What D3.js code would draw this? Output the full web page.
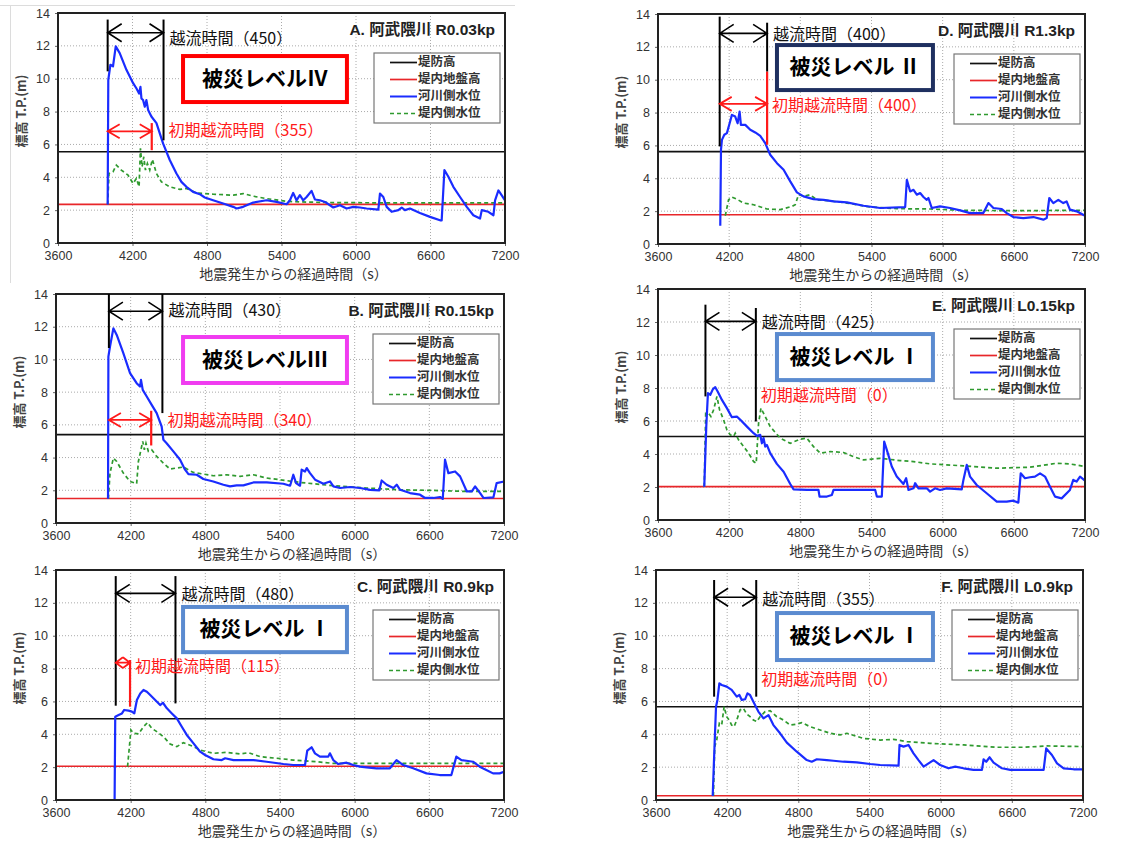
<!DOCTYPE html>
<html>
<head>
<meta charset="utf-8">
<script src="https://cdn.jsdelivr.net/npm/d3@7"></script>
<style>
  body { margin: 0; background: #fff; }
  svg { display: block; }
</style>
</head>
<body>
<div id="chart"></div>
<script>
// panel order: A, B, C (left column), D, E, F (right column)
const panelTitles = ["A. 阿武隈川 R0.03kp", "B. 阿武隈川 R0.15kp", "C. 阿武隈川 R0.9kp",
                     "D. 阿武隈川 R1.3kp", "E. 阿武隈川 L0.15kp", "F. 阿武隈川 L0.9kp"];
const damageLevels = ["被災レベルⅣ", "被災レベルⅢ", "被災レベル Ⅰ", "被災レベル Ⅱ", "被災レベル Ⅰ", "被災レベル Ⅰ"];
const overflowTimes = [450, 430, 480, 400, 425, 355];
const initialOverflowTimes = [355, 340, 115, 400, 0, 0];
const overflowStarts = [4000, 4025, 4080, 4120, 4000, 4090];
const crestHeights = [5.55, 5.4, 4.95, 5.62, 5.06, 5.68];   // 堤防高
const groundHeights = [2.35, 1.5, 2.05, 1.78, 2.02, 0.26];  // 堤内地盤高

const xTicks = [3600, 4200, 4800, 5400, 6000, 6600, 7200];
const yTicks = [0, 2, 4, 6, 8, 10, 12, 14];
const legendLabels = ["堤防高", "堤内地盤高", "河川側水位", "堤内側水位"];
const xTitle = "地震発生からの経過時間（s）";
const yTitle = "標高 T.P.(m)";

// 河川側水位 (river side water level)
const riverA = [[4000,2.35],[4005,9.93],[4022,10.85],[4043,10.75],[4065,11.97],[4097,11.56],[4151,10.54],[4205,9.73],[4231,9.42],[4253,9.1],[4264,9.5],[4272,8.8],[4285,8.7],[4299,8.3],[4312,8.7],[4326,8.1],[4352,7.7],[4393,7.3],[4446,6.06],[4500,5.05],[4554,4.23],[4594,3.72],[4634,3.42],[4688,3.11],[4742,2.97],[4782,2.77],[4849,2.6],[4930,2.4],[5011,2.2],[5038,2.1],[5091,2.2],[5172,2.46],[5279,2.6],[5360,2.5],[5441,2.36],[5468,2.6],[5494,3.05],[5521,2.6],[5548,2.91],[5575,2.6],[5602,2.8],[5642,3.17],[5669,2.65],[5709,2.6],[5750,2.5],[5790,2.3],[5817,2.16],[5871,2.3],[5924,2.1],[5978,2.2],[6032,2.16],[6085,2.1],[6180,2.03],[6193,3.01],[6220,2.8],[6247,2.2],[6287,1.9],[6341,2.0],[6368,2.16],[6394,2.0],[6435,2.1],[6515,1.83],[6596,1.59],[6677,1.38],[6690,1.38],[6712,4.44],[6744,4.03],[6784,3.42],[6838,2.8],[6892,2.2],[6945,1.69],[6999,1.49],[7013,2.0],[7066,1.9],[7107,1.69],[7120,2.6],[7147,3.2],[7174,2.9],[7200,2.6]];
const riverB = [[4018,1.49],[4021,10.17],[4034,10.79],[4061,11.9],[4088,11.5],[4141,10.38],[4195,9.16],[4248,8.55],[4275,8.34],[4283,8.75],[4297,8.14],[4329,7.73],[4369,7.22],[4409,6.72],[4449,5.9],[4463,5.09],[4489,4.88],[4543,4.38],[4597,3.87],[4637,3.26],[4664,2.99],[4731,2.95],[4784,2.69],[4864,2.54],[4945,2.34],[4998,2.24],[5052,2.3],[5106,2.3],[5186,2.48],[5293,2.48],[5427,2.4],[5481,2.28],[5507,2.95],[5529,2.44],[5561,2.28],[5574,3.26],[5601,3.15],[5615,3.36],[5641,3.05],[5682,2.65],[5749,2.4],[5802,2.54],[5829,2.24],[5883,2.14],[5963,2.2],[6043,2.14],[6124,2.03],[6198,2.0],[6217,2.6],[6257,2.34],[6311,2.14],[6338,2.34],[6365,2.03],[6445,1.83],[6525,1.73],[6566,1.53],[6633,1.53],[6686,1.59],[6708,1.47],[6726,3.87],[6753,3.05],[6807,3.15],[6847,2.85],[6901,1.93],[6941,1.93],[6968,2.24],[7008,1.83],[7035,1.53],[7115,1.57],[7141,2.44],[7200,2.54]];
const riverC = [[4071,0],[4076,5.07],[4103,5.17],[4130,5.27],[4148,5.48],[4183,5.44],[4210,5.38],[4229,5.27],[4250,6.09],[4277,6.49],[4303,6.7],[4330,6.59],[4357,6.39],[4397,6.09],[4437,5.78],[4459,5.92],[4491,5.58],[4531,5.27],[4571,4.97],[4611,4.46],[4651,3.96],[4705,3.45],[4758,2.94],[4798,2.74],[4865,2.48],[4932,2.43],[4959,2.54],[5026,2.43],[5186,2.43],[5293,2.33],[5427,2.19],[5507,2.13],[5601,2.13],[5619,3.0],[5654,3.21],[5681,2.84],[5721,2.64],[5788,2.64],[5801,2.84],[5828,2.43],[5868,2.19],[5935,2.27],[5988,2.13],[6042,2.03],[6095,1.99],[6176,1.93],[6283,1.93],[6336,2.43],[6390,2.13],[6470,1.93],[6577,1.62],[6684,1.52],[6777,1.52],[6817,2.64],[6858,2.43],[6898,2.39],[6951,2.33],[7005,2.03],[7058,1.83],[7112,1.62],[7165,1.62],[7200,1.72]];
const riverD = [[4125,1.11],[4131,5.73],[4139,6.34],[4159,6.65],[4181,6.75],[4204,7.35],[4223,7.86],[4251,7.76],[4271,7.35],[4288,8.06],[4299,7.25],[4336,7.25],[4378,6.95],[4420,6.79],[4462,6.58],[4504,6.14],[4546,5.43],[4603,4.92],[4659,4.52],[4715,3.81],[4771,3.14],[4827,2.9],[4911,2.73],[4996,2.69],[5080,2.59],[5192,2.53],[5333,2.33],[5473,2.19],[5684,2.25],[5698,3.91],[5726,3.2],[5754,3.3],[5782,3.0],[5810,3.1],[5838,2.86],[5866,2.69],[5880,2.8],[5908,2.19],[5978,2.29],[6063,2.19],[6147,2.05],[6231,1.88],[6343,1.88],[6386,2.49],[6428,2.19],[6498,2.13],[6540,1.88],[6596,1.64],[6680,1.58],[6765,1.64],[6849,1.48],[6877,1.58],[6899,2.8],[6933,2.49],[6975,2.69],[7017,2.49],[7045,2.59],[7073,2.09],[7130,1.99],[7200,1.72]];
const riverE = [[3990,2.02],[4007,5.66],[4021,7.69],[4041,7.59],[4063,7.93],[4083,8.05],[4103,7.79],[4139,7.28],[4181,6.78],[4223,6.23],[4265,6.27],[4294,6.07],[4350,5.66],[4406,5.26],[4434,5.1],[4462,5.16],[4476,4.65],[4490,4.96],[4504,4.45],[4518,4.55],[4546,4.05],[4602,3.4],[4659,2.93],[4715,2.18],[4743,1.86],[4855,1.82],[4953,1.82],[4962,1.42],[5024,1.42],[5066,1.52],[5080,1.82],[5431,1.82],[5445,1.42],[5487,1.42],[5507,4.75],[5529,4.25],[5571,3.24],[5613,2.63],[5669,2.18],[5692,2.53],[5712,1.82],[5754,1.92],[5768,2.23],[5796,1.92],[5866,1.92],[5894,1.72],[5936,1.92],[5978,1.82],[6034,1.92],[6161,1.86],[6175,2.43],[6203,3.34],[6231,2.63],[6287,2.12],[6371,1.62],[6456,1.11],[6540,1.11],[6596,1.17],[6638,1.05],[6658,2.83],[6694,2.53],[6736,2.59],[6778,2.63],[6821,2.83],[6863,2.63],[6905,2.02],[6947,1.42],[7003,1.31],[7073,1.82],[7101,2.43],[7129,2.33],[7158,2.63],[7200,2.39]];
const riverF = [[4078,0.24],[4089,2.43],[4106,5.68],[4118,6.09],[4134,7.1],[4154,7.0],[4196,6.9],[4238,6.7],[4281,6.29],[4303,6.39],[4323,6.09],[4351,6.13],[4371,6.49],[4393,6.39],[4421,5.98],[4463,5.38],[4506,4.97],[4548,5.17],[4590,4.56],[4646,4.06],[4703,3.49],[4787,2.94],[4871,2.43],[4913,2.33],[4956,2.48],[5040,2.43],[5096,2.39],[5181,2.33],[5293,2.29],[5406,2.19],[5490,2.13],[5645,2.09],[5653,3.35],[5687,3.25],[5729,3.35],[5771,2.84],[5813,2.43],[5856,2.03],[5898,2.23],[5940,2.43],[5996,2.13],[6066,1.93],[6123,2.03],[6193,1.93],[6277,1.83],[6348,1.83],[6362,2.48],[6384,2.33],[6413,2.6],[6446,2.27],[6517,1.93],[6587,1.83],[6728,1.83],[6868,1.83],[6890,3.14],[6938,2.74],[6981,2.23],[7037,1.93],[7121,1.87],[7200,1.87]];

// 堤内側水位 (landside water level)
const innerA = [[4000,2.35],[4011,4.23],[4043,4.33],[4070,4.74],[4110,4.44],[4164,4.13],[4205,3.62],[4231,3.93],[4253,3.42],[4264,5.76],[4277,4.64],[4291,5.25],[4304,4.44],[4320,4.84],[4339,4.44],[4360,5.09],[4393,4.23],[4433,3.72],[4500,3.42],[4581,3.26],[4634,3.32],[4715,3.05],[4849,2.97],[5011,2.91],[5091,3.01],[5172,2.85],[5279,2.7],[5441,2.54],[5548,2.5],[5817,2.46],[6354,2.44],[7200,2.44]];
const innerB = [[4021,1.49],[4034,3.05],[4061,3.97],[4088,3.76],[4141,3.05],[4195,2.54],[4248,2.4],[4262,3.76],[4280,4.38],[4297,4.99],[4310,4.48],[4323,4.88],[4342,4.38],[4369,4.48],[4409,4.07],[4463,3.66],[4516,3.3],[4623,3.42],[4704,3.09],[4864,2.89],[4972,2.95],[5079,2.85],[5186,2.95],[5293,2.75],[5561,2.48],[5829,2.28],[6097,2.14],[6365,2.03],[6633,1.99],[6901,1.93],[7200,1.93]];
const innerC = [[4175,2.03],[4202,4.26],[4223,4.06],[4263,4.02],[4303,4.46],[4335,4.71],[4370,4.36],[4410,4.16],[4464,3.85],[4517,3.41],[4571,3.25],[4624,3.49],[4705,3.25],[4758,3.04],[4865,2.84],[4972,2.9],[5079,2.8],[5146,2.88],[5240,2.64],[5373,2.54],[5507,2.43],[5694,2.33],[5828,2.23],[6095,2.23],[7200,2.23]];
const innerD = [[4167,1.72],[4195,2.69],[4223,2.86],[4265,2.73],[4322,2.49],[4406,2.39],[4518,2.13],[4631,2.09],[4729,2.29],[4757,2.39],[4785,3.0],[4827,2.9],[4883,3.0],[4939,2.69],[5052,2.63],[5192,2.49],[5389,2.25],[5613,2.15],[5894,2.13],[6175,2.05],[6596,2.03],[7200,2.05]];
const innerE = [[3990,2.02],[4002,6.47],[4027,6.47],[4046,6.27],[4069,6.68],[4097,7.49],[4119,6.68],[4153,6.07],[4181,5.46],[4209,5.16],[4237,5.06],[4251,5.26],[4279,4.86],[4322,4.45],[4364,4.05],[4406,3.54],[4428,3.44],[4448,5.87],[4468,6.78],[4504,6.27],[4546,5.66],[4631,4.96],[4715,4.65],[4799,4.9],[4855,4.96],[4911,4.45],[4968,4.05],[5052,4.15],[5164,4.09],[5248,3.84],[5333,3.64],[5473,3.74],[5641,3.6],[5754,3.54],[5894,3.4],[6175,3.28],[6456,3.14],[6736,3.2],[6961,3.44],[7073,3.4],[7200,3.24]];
const innerF = [[4084,0.24],[4095,3.25],[4112,3.65],[4134,4.67],[4154,4.56],[4174,5.68],[4196,5.07],[4216,4.87],[4238,4.56],[4258,4.46],[4281,4.87],[4309,5.48],[4337,5.58],[4365,5.23],[4393,5.07],[4421,4.87],[4449,4.77],[4477,5.07],[4520,5.38],[4562,5.44],[4618,5.07],[4674,4.87],[4731,4.56],[4787,4.62],[4829,4.71],[4899,4.46],[4984,4.26],[5068,4.06],[5152,3.96],[5209,4.06],[5349,3.75],[5490,3.65],[5603,3.69],[5715,3.55],[5912,3.45],[6193,3.35],[6474,3.21],[6699,3.21],[6896,3.29],[7200,3.25]];

const riverSeries = [riverA, riverB, riverC, riverD, riverE, riverF];
const innerSeries = [innerA, innerB, innerC, innerD, innerE, innerF];

// plot rectangles in page pixels
const frames = [
  { x0: 58, x1: 505, y0: 13, y1: 243 },
  { x0: 56, x1: 504, y0: 294, y1: 523 },
  { x0: 56, x1: 504, y0: 570, y1: 800 },
  { x0: 658, x1: 1085, y0: 14, y1: 244 },
  { x0: 658, x1: 1085, y0: 289, y1: 520 },
  { x0: 656, x1: 1083, y0: 570, y1: 800 }
];

// annotation geometry in data units (time, elevation)
const notes = [
  { l1: [13.6, 10.45], l2: [13.6, 6.25], arrowY: 12.8, labelY: 12.35, redY: 6.8, red: [7.3, 5.65], redLabelY: 6.75, redLabelAtInit: false },
  { l1: [14.0, 10.7], l2: [14.0, 6.72], arrowY: 12.95, labelY: 12.9, redY: 6.3, red: [6.86, 4.74], redLabelY: 6.2, redLabelAtInit: false },
  { l1: [13.63, 5.74], l2: [13.63, 5.88], arrowY: 12.58, labelY: 12.45, redY: 8.36, red: [8.52, 5.68], redLabelY: 8.07, redLabelAtInit: true },
  { l1: [13.84, 5.94], l2: [13.47, 10.49], arrowY: 12.82, labelY: 12.7, redY: 8.53, red: [10.49, 6.04], redLabelY: 8.33, redLabelAtInit: false },
  { l1: [13.05, 7.49], l2: [12.85, 5.97], arrowY: 12.04, labelY: 11.9, redY: null, red: null, redLabelY: 7.49, redLabelAtInit: false },
  { l1: [13.39, 6.29], l2: [13.39, 6.29], arrowY: 12.34, labelY: 12.15, redY: null, red: null, redLabelY: 7.26, redLabelAtInit: false }
];

// damage level boxes: [t left, t right, top elevation, bottom elevation]
const levelBoxes = [
  [4607, 5927, 11.38, 8.58],
  [4621, 5938, 11.37, 8.56],
  [4621, 5938, 11.75, 9.0],
  [4603, 5918, 12.11, 9.37],
  [4603, 5918, 11.27, 8.48],
  [4620, 5935, 11.38, 8.52]
];
const levelColors = ["#ff0000", "#f03cf0", "#5b8bd0", "#1f3060", "#5b8bd0", "#5b8bd0"];

const legendColors = ["#111", "#e8262a", "#1a2cff", "#2f9a2f"];

const W = 1130, H = 841;
const jpFont = "'Noto Sans CJK JP', sans-serif";
const numFont = "'Liberation Sans', Arial, 'Noto Sans CJK JP', sans-serif";

const svg = d3.select("#chart").append("svg")
  .attr("width", W).attr("height", H)
  .style("background", "#fff");

// faint image frame around panel A
svg.append("path")
  .attr("d", "M0,5.5H515M10.5,5.5V283")
  .attr("fill", "none").attr("stroke", "#dcdcdc").attr("stroke-width", 1);

function doubleArrow(g, xa, xb, yy, color, head, half, width) {
  const h = Math.min(head, (xb - xa) / 2);
  const hw = Math.min(half, h * 0.75);
  g.append("path")
    .attr("d", `M${xa},${yy}H${xb}` +
      `M${xa + h},${yy - hw}L${xa},${yy}L${xa + h},${yy + hw}` +
      `M${xb - h},${yy - hw}L${xb},${yy}L${xb - h},${yy + hw}`)
    .attr("fill", "none").attr("stroke", color).attr("stroke-width", width);
}

function drawPanel(i) {
  const f = frames[i];
  const x = d3.scaleLinear().domain([3600, 7200]).range([f.x0, f.x1]);
  const y = d3.scaleLinear().domain([0, 14]).range([f.y1, f.y0]);
  const g = svg.append("g");

  // grid
  g.append("g").selectAll("line").data(xTicks.slice(1, -1)).join("line")
    .attr("x1", d => x(d)).attr("x2", d => x(d))
    .attr("y1", f.y0).attr("y2", f.y1)
    .attr("stroke", "#aaa").attr("stroke-width", 1).attr("stroke-dasharray", "1,2");
  g.append("g").selectAll("line").data(yTicks.slice(1, -1)).join("line")
    .attr("x1", f.x0).attr("x2", f.x1)
    .attr("y1", d => y(d)).attr("y2", d => y(d))
    .attr("stroke", "#aaa").attr("stroke-width", 1).attr("stroke-dasharray", "1,2");

  // axes
  const xa = g.append("g").attr("transform", `translate(0,${f.y1})`)
    .call(d3.axisBottom(x).tickValues(xTicks).tickSize(3).tickSizeOuter(0).tickPadding(5).tickFormat(d3.format("d")));
  const ya = g.append("g").attr("transform", `translate(${f.x0},0)`)
    .call(d3.axisLeft(y).tickValues(yTicks).tickSize(3).tickSizeOuter(0).tickPadding(5));
  [xa, ya].forEach(a => {
    a.select(".domain").remove();
    a.selectAll(".tick line").attr("stroke", "#666");
    a.selectAll("text").attr("font-family", numFont).attr("font-size", 12.5).attr("fill", "#333");
  });

  g.append("text")
    .attr("x", (f.x0 + f.x1) / 2 + 12).attr("y", f.y1 + 36)
    .attr("text-anchor", "middle")
    .attr("font-family", jpFont).attr("font-size", 14).attr("fill", "#333")
    .text(xTitle);
  g.append("text")
    .attr("transform", `translate(${f.x0 - 36},${f.y0 + 98}) rotate(-90)`)
    .attr("text-anchor", "middle").attr("dominant-baseline", "middle")
    .attr("font-family", jpFont).attr("font-size", 13).attr("font-weight", "bold").attr("fill", "#444")
    .text(yTitle);

  // reference levels
  g.append("line")
    .attr("x1", f.x0).attr("x2", f.x1)
    .attr("y1", y(crestHeights[i])).attr("y2", y(crestHeights[i]))
    .attr("stroke", legendColors[0]).attr("stroke-width", 1.6);
  g.append("line")
    .attr("x1", f.x0).attr("x2", f.x1)
    .attr("y1", y(groundHeights[i])).attr("y2", y(groundHeights[i]))
    .attr("stroke", legendColors[1]).attr("stroke-width", 1.6);

  const line = d3.line().x(d => x(d[0])).y(d => y(d[1]));
  g.append("path").datum(innerSeries[i])
    .attr("d", line).attr("fill", "none")
    .attr("stroke", legendColors[3]).attr("stroke-width", 1.7).attr("stroke-dasharray", "4,3");
  g.append("path").datum(riverSeries[i])
    .attr("d", line).attr("fill", "none")
    .attr("stroke", legendColors[2]).attr("stroke-width", 2.2).attr("stroke-linejoin", "round");

  // frame
  g.append("rect")
    .attr("x", f.x0).attr("y", f.y0)
    .attr("width", f.x1 - f.x0).attr("height", f.y1 - f.y0)
    .attr("fill", "none").attr("stroke", "#222").attr("stroke-width", 2);

  // panel title
  g.append("text")
    .attr("x", f.x1 - 10).attr("y", f.y0 + 18)
    .attr("text-anchor", "end").attr("dominant-baseline", "middle")
    .attr("font-family", numFont).attr("font-size", 15.5).attr("font-weight", "bold").attr("fill", "#222")
    .text(panelTitles[i]);

  // legend
  const lw = 126, lh = 70;
  const lx = f.x1 - 5 - lw, ly = f.y0 + 40;
  const lg = g.append("g");
  lg.append("rect").attr("x", lx).attr("y", ly).attr("width", lw).attr("height", lh)
    .attr("fill", "#fff").attr("stroke", "#777").attr("stroke-width", 1.2);
  legendLabels.forEach((lab, k) => {
    const yy = ly + 9.5 + k * 17;
    lg.append("line").attr("x1", lx + 16).attr("x2", lx + 43).attr("y1", yy).attr("y2", yy)
      .attr("stroke", legendColors[k]).attr("stroke-width", k === 2 ? 2 : 1.7)
      .attr("stroke-dasharray", k === 3 ? "4,3" : null);
    lg.append("text").attr("x", lx + 44).attr("y", yy)
      .attr("dominant-baseline", "middle")
      .attr("font-family", jpFont).attr("font-size", 12.5).attr("font-weight", "bold").attr("fill", "#333")
      .text(lab);
  });

  // damage level box
  const b = levelBoxes[i];
  g.append("rect")
    .attr("x", x(b[0])).attr("y", y(b[2]))
    .attr("width", x(b[1]) - x(b[0])).attr("height", y(b[3]) - y(b[2]))
    .attr("fill", "#fff").attr("stroke", levelColors[i]).attr("stroke-width", 4);
  g.append("text")
    .attr("x", (x(b[0]) + x(b[1])) / 2).attr("y", (y(b[2]) + y(b[3])) / 2 + 1)
    .attr("text-anchor", "middle").attr("dominant-baseline", "middle")
    .attr("font-family", jpFont).attr("font-size", 21).attr("font-weight", "bold").attr("fill", "#000")
    .text(damageLevels[i]);

  // overflow annotations
  const n = notes[i];
  const t0 = overflowStarts[i];
  const t1 = t0 + overflowTimes[i];
  const tInit = t0 + initialOverflowTimes[i];
  g.append("line").attr("x1", x(t0)).attr("x2", x(t0)).attr("y1", y(n.l1[0])).attr("y2", y(n.l1[1]))
    .attr("stroke", "#000").attr("stroke-width", 2);
  g.append("line").attr("x1", x(t1)).attr("x2", x(t1)).attr("y1", y(n.l2[0])).attr("y2", y(n.l2[1]))
    .attr("stroke", "#000").attr("stroke-width", 2);
  doubleArrow(g, x(t0), x(t1), y(n.arrowY), "#000", 14, 9, 1.6);
  g.append("text")
    .attr("x", x(t1) + 6).attr("y", y(n.labelY))
    .attr("dominant-baseline", "middle")
    .attr("font-family", jpFont).attr("font-size", 16).attr("fill", "#111")
    .text(`越流時間（${overflowTimes[i]}）`);

  if (n.red) {
    g.append("line").attr("x1", x(tInit)).attr("x2", x(tInit)).attr("y1", y(n.red[0])).attr("y2", y(n.red[1]))
      .attr("stroke", "#ff1a1a").attr("stroke-width", 2.2);
    doubleArrow(g, x(t0), x(tInit), y(n.redY), "#ff1a1a", 12, 7, 1.8);
  }
  const redX = (n.redLabelAtInit ? x(tInit) : x(t1)) + 5;
  g.append("text")
    .attr("x", redX).attr("y", y(n.redLabelY))
    .attr("dominant-baseline", "middle")
    .attr("font-family", jpFont).attr("font-size", 16).attr("fill", "#ff1a1a")
    .text(`初期越流時間（${initialOverflowTimes[i]}）`);
}

d3.range(6).forEach(drawPanel);
</script>
</body>
</html>
